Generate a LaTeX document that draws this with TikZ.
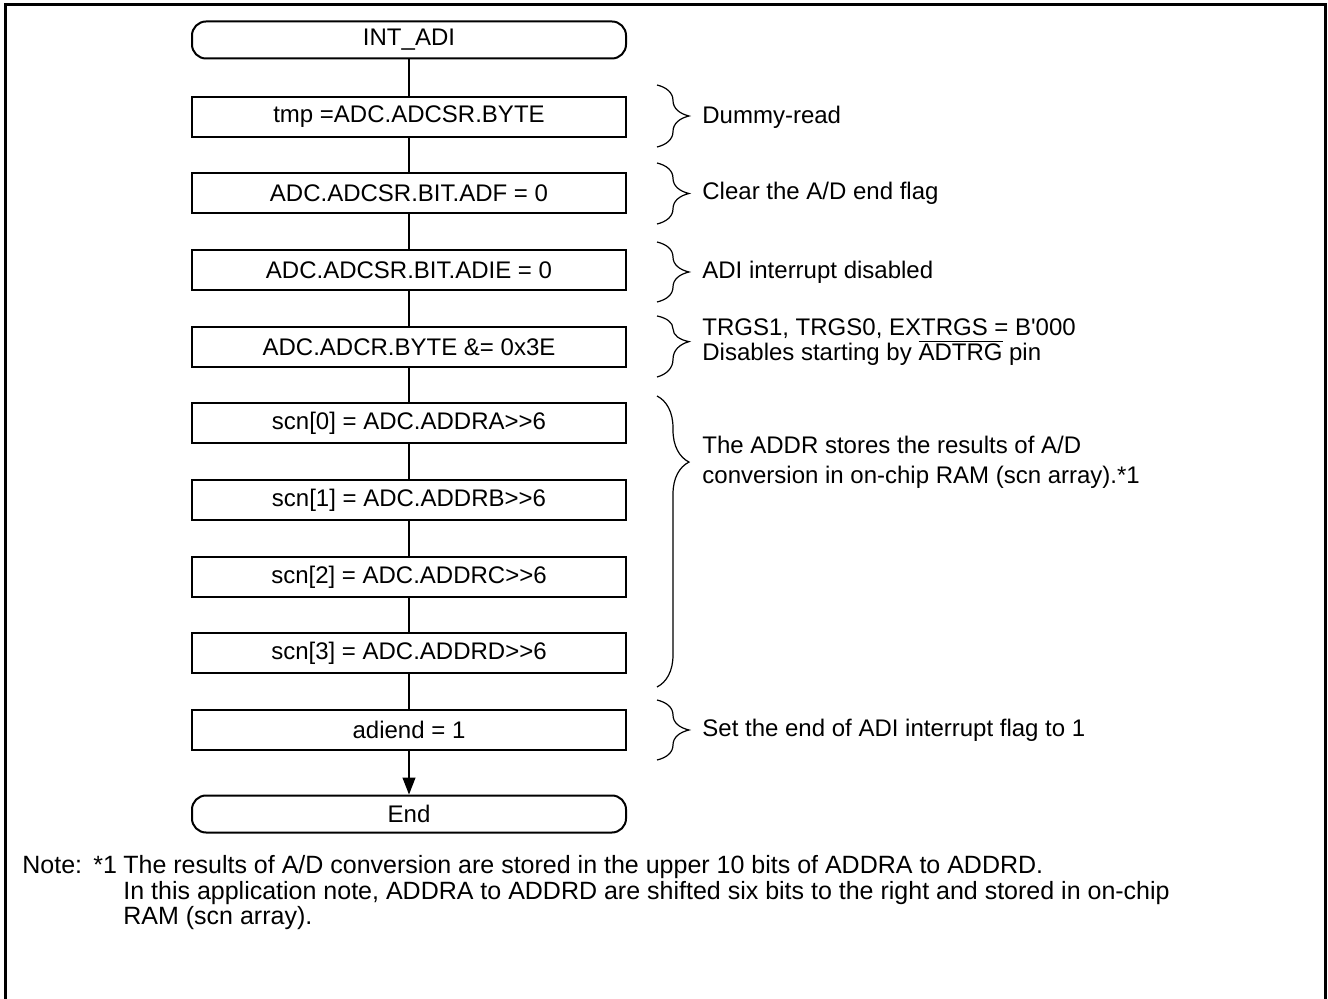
\documentclass[tikz,border=0pt]{standalone}
\usepackage{fontspec}
\setmainfont{Liberation Sans}
\usetikzlibrary{arrows.meta,positioning,decorations.pathreplacing}

\begin{document}
\begin{tikzpicture}[
  x=0.5pt, y=-0.5pt,
  font=\fontsize{12}{12.75}\selectfont,
  proc/.style={draw, line width=1pt, rectangle, minimum width=217pt, minimum height=20pt, inner sep=0pt},
  term/.style={draw, line width=1pt, rectangle, rounded corners=7pt, minimum width=217pt, minimum height=18.5pt, inner sep=0pt},
  link/.style={line width=0.6pt},
  arr/.style={link, -{Triangle[length=8.5pt, width=6.5pt]}},
  brc/.style={decorate, decoration={brace, amplitude=16pt}, line width=0.6pt},
  cmt/.style={anchor=west, align=left, inner sep=0pt},
  note/.style={inner sep=0pt, font=\fontsize{12.5}{12.75}\selectfont}
]
\useasboundingbox (0,0) rectangle (1328,999);
\draw[line width=1.5pt] (5,999) -- (5,5) -- (1325.5,5) -- (1325.5,999);

% flow
\node[term] (start) at (409,40) {INT\_ADI};
\node[proc] (rd) at (409,117) {tmp =ADC.ADCSR.BYTE};
\node[proc] (adf) at (409,193) {ADC.ADCSR.BIT.ADF = 0};
\node[proc] (adie) at (409,270) {ADC.ADCSR.BIT.ADIE = 0};
\node[proc] (adcr) at (409,347) {ADC.ADCR.BYTE \&= 0x3E};
\node[proc] (scna) at (409,423) {scn[0] = ADC.ADDRA>{}>6};
\node[proc] (scnb) at (409,500) {scn[1] = ADC.ADDRB>{}>6};
\node[proc] (scnc) at (409,577) {scn[2] = ADC.ADDRC>{}>6};
\node[proc] (scnd) at (409,653) {scn[3] = ADC.ADDRD>{}>6};
\node[proc] (flag) at (409,730) {adiend = 1};
\node[term] (stop) at (409,814) {End};
\draw[link] (start) -- (rd);
\draw[link] (rd) -- (adf);
\draw[link] (adf) -- (adie);
\draw[link] (adie) -- (adcr);
\draw[link] (adcr) -- (scna);
\draw[link] (scna) -- (scnb);
\draw[link] (scnb) -- (scnc);
\draw[link] (scnc) -- (scnd);
\draw[link] (scnd) -- (flag);
\draw[arr] (flag) -- (stop);

% comments
\draw[brc] (657,85) -- (657,147);
\node[cmt] (crd) at (702,117) {Dummy-read};
\draw[brc] (657,163) -- (657,224);
\node[cmt] (cadf) at (702,193) {Clear the A/D end flag};
\draw[brc] (657,242) -- (657,302);
\node[cmt] (cadie) at (702,272) {ADI interrupt disabled};
\draw[brc, decoration={brace, amplitude=16pt, aspect=0.42}] (657,316) -- (657,377);
\node[cmt] (cadcr) at (702,342) {TRGS1, TRGS0, EXTRGS = B\textquotesingle 000\\Disables starting by $\overline{\hbox{ADTRG}}$ pin};
\draw[brc, decoration={brace, amplitude=16pt, aspect=0.227}] (657,396) -- (657,687);
\node[cmt, font=\fontsize{12}{15}\selectfont] (cscn) at (702,462) {The ADDR stores the results of A/D\\conversion in on-chip RAM (scn array).*1};
\draw[brc] (657,700) -- (657,760);
\node[cmt] (cflag) at (702,730) {Set the end of ADI interrupt flag to 1};

% note
\node[note, anchor=base west] (nhd) at (22,873) {Note:};
\node[note, anchor=base west] (nmk) at (93,873) {*1};
\node[note, anchor=north west, align=left] (ntxt) at (123,855) {The results of A/D conversion are stored in the upper 10 bits of ADDRA to ADDRD.\\In this application note, ADDRA to ADDRD are shifted six bits to the right and stored in on-chip\\RAM (scn array).};
\end{tikzpicture}
\end{document}
